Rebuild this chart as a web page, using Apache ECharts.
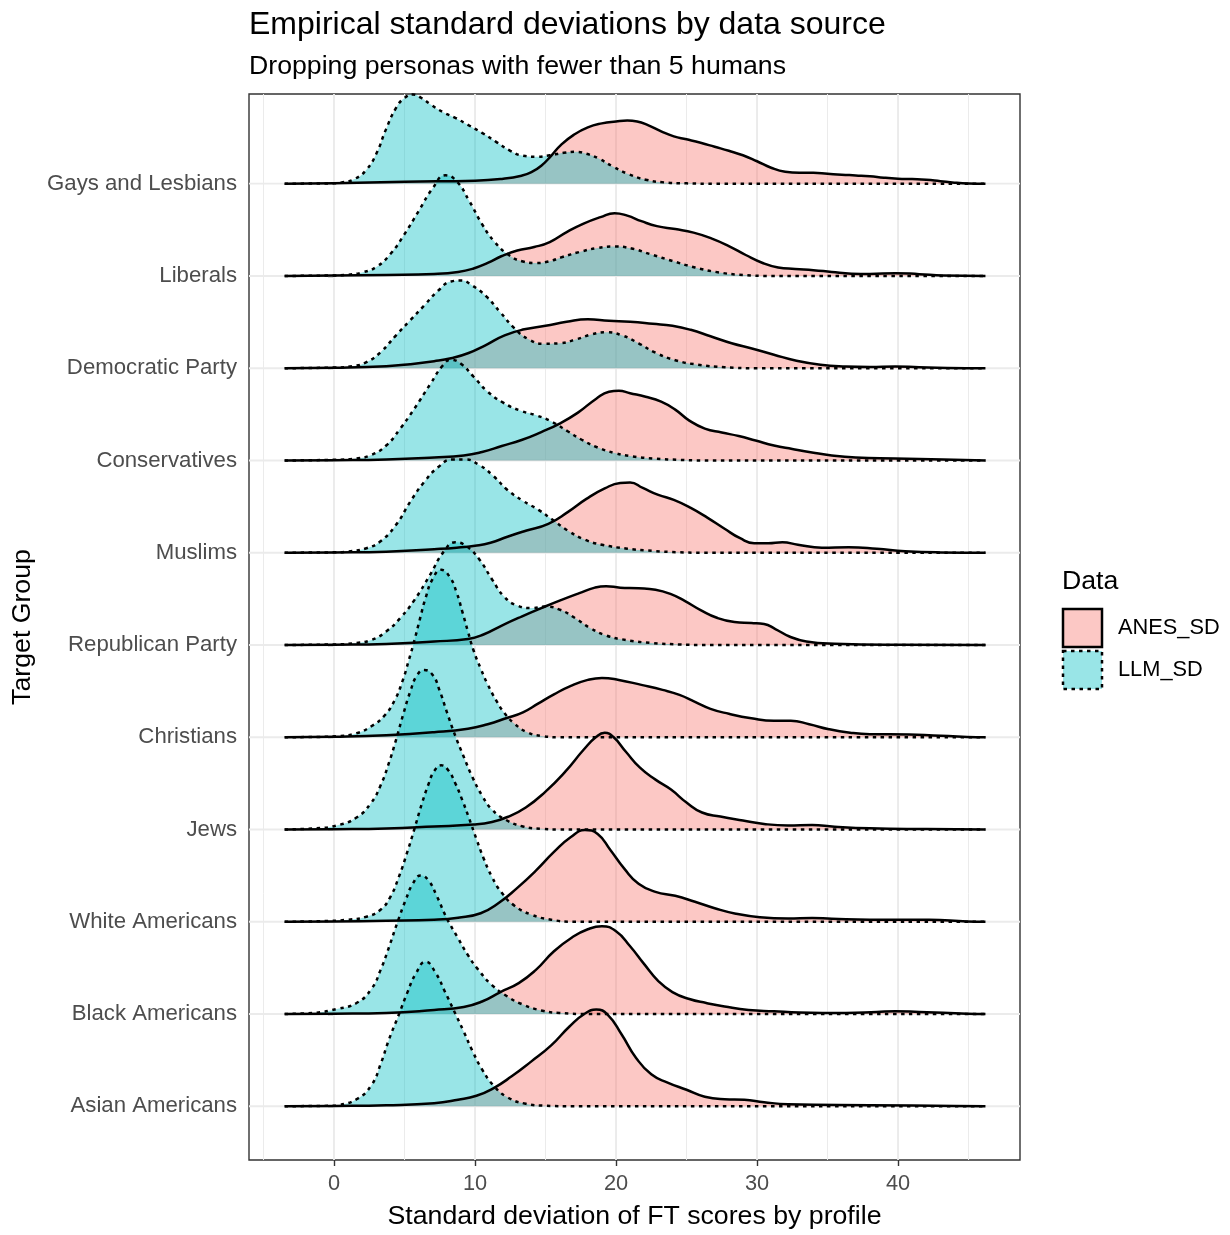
<!DOCTYPE html>
<html><head><meta charset="utf-8">
<script src="https://cdn.jsdelivr.net/npm/echarts@6/dist/echarts.min.js"></script>
<style>html,body{margin:0;padding:0;background:#fff}#c{width:1230px;height:1235px}</style>
</head><body><div id="c"></div>
<script>
// Target groups, top row first
const categories = ['Gays and Lesbians','Liberals','Democratic Party','Conservatives','Muslims','Republican Party','Christians','Jews','White Americans','Black Americans','Asian Americans'];
const xTicks = [0, 10, 20, 30, 40];
const xMinor = [-5, 5, 15, 25, 35, 45];

// [SD value, relative density height]
const anesGays = [[-3.5,0],[0,0.5],[5,2],[10,3],[12,5],[13.3,8],[14,11.5],[14.7,18],[15.4,28],[16.1,39],[17,49],[18,56.5],[19,60.5],[20,62.5],[20.8,63.5],[21.5,62.5],[22.3,58.5],[23.2,52.5],[24.1,47.5],[25,44.5],[26,41],[27,37],[28,33],[29,28.5],[30,22.5],[31,16],[32,12],[33,11],[34,11],[35,10],[36,9],[37,8.3],[38,7.5],[39,6],[40,5],[41,4.6],[42,4],[43,2.5],[44,1],[45,0.2],[46.2,0]];
const llmGays = [[-3.5,0],[0,0.3],[0.5,1],[1.5,5],[2.3,14],[3.0,30],[3.7,55],[4.4,76],[5.0,86],[5.6,89.5],[6.2,86],[6.9,79],[7.7,72],[8.6,66],[9.5,59],[10.5,51],[11.5,42],[12.5,33],[13.4,28],[14.3,27],[15.3,28.5],[16.3,31],[17.1,32],[17.9,30],[18.8,25],[19.8,17],[20.9,9.5],[22.1,4],[23.4,1.3],[25,0.3],[27,0],[46.2,0]];
const anesLiberals = [[-3.5,0],[0,0.5],[3.7,1],[7.1,2],[8.8,4],[9.9,7.5],[10.9,13],[11.9,20],[13,25.5],[14.2,29],[15.3,34],[16.5,44],[17.7,52.5],[18.9,59],[19.9,63],[20.8,60.5],[21.8,55],[22.9,50],[24.2,47],[25.5,43.5],[26.8,37.5],[28,30],[29.2,21],[30.4,13],[31.5,8.5],[32.7,7],[34,5.8],[35.3,4],[36.7,2.3],[38,2],[39.8,2.8],[41.5,1.8],[43.2,0.5],[46.2,0]];
const llmLiberals = [[-3.5,0],[0,0.5],[1,1.2],[2,3.5],[3,9],[4,22],[5,42],[6,65],[7,88],[7.9,101],[8.7,95],[9.6,75],[10.5,52],[11.4,34],[12.4,21],[13.4,14.5],[14.3,13],[15.2,14.5],[16.2,19],[17.4,24],[18.7,28],[19.9,29.5],[21.1,27.5],[22.5,21.5],[24,15],[25.6,8.5],[27.3,3.5],[29,1],[31,0],[46.2,0]];
const anesDemocratic = [[-3.5,0],[0,0.5],[3.7,2],[5.4,4],[7.1,7],[8.3,10],[9.5,15],[10.8,23.5],[12.1,33],[13.5,39],[15,42.5],[16.5,46.5],[18,49],[19.5,47.5],[21,46.5],[22.6,44.5],[24,42.5],[25.3,38.5],[26.7,32],[28.2,25],[29.7,19.5],[31.2,13.5],[32.8,7.5],[34.5,3.5],[36.3,1.8],[38,1.3],[39.8,1.8],[41.5,1],[43.5,0.3],[46.2,0]];
const llmDemocratic = [[-3.5,0],[0,0.6],[1.3,2],[2.3,6],[3.3,16],[4.4,33],[5.4,48],[6.4,63],[7.4,78],[8.3,87],[9,88],[9.8,83],[10.8,72],[11.8,56],[12.8,40],[13.8,29],[14.9,24.5],[16,25],[17.2,29],[18.3,34],[19.3,36],[20.4,33],[21.6,25],[22.8,15.5],[24.2,8],[25.8,3.5],[27.7,1],[30,0],[46.2,0]];
const anesConservatives = [[-3.5,0],[0,0.3],[3.7,1],[7.1,3],[9.2,5],[10.5,8.5],[11.9,14.5],[13.3,20.5],[14.7,28.5],[16,37],[17.3,48],[18.6,62],[19.5,69],[20.2,70],[21,67.5],[22.1,64],[23.2,59],[24.2,51],[25.2,40],[26.3,32],[27.5,28],[28.7,24.5],[29.9,20],[31.2,15],[32.5,11.5],[33.9,8],[35.3,5],[37,3],[39.8,2],[43.2,1],[46.2,0]];
const llmConservatives = [[-3.5,0],[0,0.6],[1.6,2],[2.65,5.5],[3.7,15],[4.7,32],[5.7,52],[6.8,76],[7.7,95],[8.3,101],[9,97],[9.9,84],[10.9,69],[12,58],[13.2,50],[14.4,45],[15.5,38.5],[16.6,29],[17.6,20.5],[18.7,13],[19.9,7.5],[21.2,4],[22.8,1.8],[24.5,0.6],[26,0],[46.2,0]];
const anesMuslims = [[-3.5,0],[0,0.3],[3.7,1],[7.1,3.5],[8.7,5],[10,7],[11.1,10],[12.3,16],[13.6,22],[15.2,29],[16.6,41],[17.9,54],[19.2,64.5],[20.3,70],[21,70.5],[21.9,65],[23,58],[24.1,53],[25.3,45],[26.5,35],[27.7,24],[28.8,14.5],[29.8,9.5],[30.8,9.5],[31.8,10.5],[32.9,8],[34.6,5],[36.5,5.5],[38.5,4],[40.5,1.5],[43,0.3],[46.2,0]];
const llmMuslims = [[-3.5,0],[0,0.4],[1,1.2],[2.3,4.5],[3.3,11.5],[4.4,28],[5.4,51],[6.4,71],[7.4,86],[8.4,93.5],[9.3,93.5],[10.3,88],[11.3,77],[12.3,63],[13.4,52],[14.5,43],[15.5,33],[16.6,22],[17.8,13],[19,8],[20.8,4],[22.6,1.8],[24.3,0.5],[26,0],[46.2,0]];
const anesRepublican = [[-3.5,0],[0,0.3],[3.7,1],[7.1,3.5],[9.5,6],[10.6,10.5],[11.9,19.5],[13.3,28.5],[14.7,37],[16,44.5],[17.4,52],[18.5,57.5],[19.3,59],[20.3,57.5],[21.6,57],[22.8,55.5],[23.9,51],[24.9,44],[26,35],[27.2,27],[28.4,23],[29.6,22],[30.5,21],[31.3,16],[32.3,8.5],[33.5,3.5],[35.5,1.2],[40,0.2],[46.2,0]];
const llmRepublican = [[-3.5,0],[0,0.5],[1.6,2],[2.65,5],[3.7,13.5],[4.7,27],[5.7,45],[6.8,70],[7.8,94],[8.6,103],[9.4,99],[10.3,86],[11.2,66],[12.1,48],[13,39.5],[14,37],[15,38.5],[16,35.5],[17.1,27],[18.1,17.5],[19.3,9.5],[20.7,5],[22.5,2],[24.5,0.5],[26,0],[46.2,0]];
const anesChristians = [[-3.5,0],[0,0.5],[3.7,2],[7.1,5],[9.5,8.5],[10.9,13],[12.2,19],[13.4,25],[14.5,34],[15.6,43],[16.8,51.5],[18,57.5],[19,59.5],[20.2,57.5],[21.8,52.5],[23.3,47.5],[24.5,42.5],[25.6,35.5],[26.7,28.5],[28,23.5],[29.6,19],[31.2,16.5],[32.4,16.5],[33.7,13],[35.1,8],[36.6,4.5],[38,3],[40.8,2.7],[42.5,1.8],[44.9,0.3],[46.2,0]];
const llmChristians = [[-3.5,0],[-1,0.3],[0.2,1],[1.6,4],[2.65,11],[3.6,22],[4.3,37],[4.85,56],[5.3,77],[5.7,97],[6.1,119],[6.5,140],[7.0,159],[7.6,168],[8.2,161],[8.7,145],[9.1,126],[9.5,106],[9.9,87],[10.4,69],[10.9,53],[11.5,37],[12.1,24],[12.8,13.5],[13.7,5],[14.7,1.3],[16,0],[46.2,0]];
const anesJews = [[-3.5,0],[0,0.3],[3.7,1],[7.1,3],[9.9,5],[11.2,7.5],[12.3,12.5],[13.6,22],[15,38],[16.4,58],[17.7,80],[18.6,93],[19.2,97],[19.8,93],[20.7,78],[21.7,62],[22.8,50],[23.9,40],[25,27],[26.1,17],[27.4,13],[29,9],[30.5,5.5],[32.2,4],[33.9,4.5],[35.5,2.8],[38,1.2],[42,0.4],[46.2,0]];
const llmJews = [[-3.5,0],[-1.5,1],[0.2,4],[1.6,12],[2.6,26],[3.3,44],[3.9,67],[4.4,90],[4.9,115],[5.4,138],[5.9,155],[6.4,160],[7.0,155],[7.5,139],[8.0,118],[8.6,94],[9.2,73],[9.8,53],[10.5,34],[11.2,20],[12.2,9.5],[13.4,3],[14.7,0.6],[16,0],[46.2,0]];
const anesWhite = [[-3.5,0],[0,0.3],[3.7,1],[7.1,2],[8.8,4],[10.4,8.5],[11.7,19],[13,34],[14.3,51],[15.6,70],[16.8,85],[17.8,92],[18.7,88],[19.6,72],[20.6,53],[21.6,38],[22.8,30],[24.2,26],[25.6,20],[27,13.5],[28.5,8],[30.2,4.5],[32.2,3.2],[33.9,3.8],[35.3,3],[38,2],[40.8,2],[42.2,2],[44.9,0.3],[46.2,0]];
const llmWhite = [[-3.5,0],[-1,0.5],[1.0,2],[2.3,5],[3.3,12],[4.0,25],[4.6,45],[5.2,70],[5.7,93],[6.2,117],[6.7,138],[7.1,151],[7.6,157],[8.1,152],[8.6,139],[9.1,122],[9.6,103],[10.1,83],[10.6,64],[11.2,45],[11.9,29],[12.8,16],[14,7],[15.4,2],[17,0],[46.2,0]];
const anesBlack = [[-3.5,0],[0,0.3],[3.7,1],[7.1,4],[9.2,7],[10.5,12.5],[11.8,22],[13.1,31],[14.3,44],[15.6,63],[16.9,77],[18,85],[19,88],[20,83],[21,68],[22,50],[23,33],[24,22],[25.2,15],[26.4,11],[27.7,7.5],[29.4,4],[31.2,2.7],[33,1.5],[36.3,1],[38.5,2],[39.8,2.7],[41.5,2],[44.9,0.3],[46.2,0]];
const llmBlack = [[-3.5,0],[-1.5,1],[0.2,5],[1.6,11],[2.65,25],[3.3,44],[3.9,67],[4.5,92],[5.1,115],[5.6,131],[6.15,139],[6.7,134],[7.3,118],[8.0,96],[8.8,76],[9.5,59],[10.2,45],[11.2,29],[12.3,17.5],[13.3,10],[14.7,3.5],[16,1],[18,0],[46.2,0]];
const anesAsian = [[-3.5,0],[0,0.3],[3.7,1],[7.1,3],[8.8,6.5],[10.1,10.5],[11.3,18],[12.6,30],[14,45],[15.4,61],[16.7,80],[17.8,93],[18.6,97],[19.4,92],[20.4,72],[21.4,49],[22.5,32],[23.7,23.5],[25,16.5],[26.3,9.5],[27.7,7],[29.1,6.5],[30.5,4],[32.2,2],[38,1],[44,0.3],[46.2,0]];
const llmAsian = [[-3.5,0],[0,0.5],[0.3,1],[1.6,7],[2.65,21],[3.3,42],[3.9,67],[4.6,92],[5.2,114],[5.8,133],[6.5,145],[7.2,134],[7.9,114],[8.6,93],[9.2,75],[9.8,56],[10.5,37],[11.3,21],[12.3,9],[13.6,2.5],[15,0.5],[17,0],[46.2,0]];

const anesRows = [anesGays, anesLiberals, anesDemocratic, anesConservatives, anesMuslims, anesRepublican, anesChristians, anesJews, anesWhite, anesBlack, anesAsian];
const llmRows = [llmGays, llmLiberals, llmDemocratic, llmConservatives, llmMuslims, llmRepublican, llmChristians, llmJews, llmWhite, llmBlack, llmAsian];

const DENSITY_SCALE = 1 / 92.6; // ridge height relative to row spacing
const N = categories.length;
const Y_MIN = 0.417, Y_MAX = 11.972, X_MIN = -6.028, X_MAX = 48.65;
const FONT = 'Liberation Sans, Arial, sans-serif';

const series = [];
const gridLine = (pts, w) => ({
  type: 'line', z: 1, silent: true, animation: false, showSymbol: false, symbol: 'none',
  data: pts, lineStyle: {color: '#ebebeb', width: w}
});
xTicks.forEach(v => series.push(gridLine([[v, Y_MIN], [v, Y_MAX]], 1.9)));
xMinor.forEach(v => series.push(gridLine([[v, Y_MIN], [v, Y_MAX]], 1.0)));
categories.forEach((c, i) => series.push(gridLine([[X_MIN, N - i], [X_MAX, N - i]], 1.9)));

categories.forEach((cat, i) => {
  const base = N - i;
  const mk = (pts, name, fill, dash) => ({
    type: 'line', name: name, z: 2,
    data: pts.map(p => [p[0], base + p[1] * DENSITY_SCALE]),
    smooth: 0.5, showSymbol: false, symbol: 'none', silent: true, animation: false,
    lineStyle: {color: '#000', width: 2.5, type: dash, cap: 'butt', join: 'round'},
    areaStyle: {color: fill, opacity: 1, origin: base}
  });
  series.push(mk(anesRows[i], 'ANES_SD', 'rgba(248,118,109,0.4)', 'solid'));
  series.push(mk(llmRows[i], 'LLM_SD', 'rgba(0,191,196,0.4)', [3.5, 4.5]));
});

const chart = echarts.init(document.getElementById('c'), null, {renderer: 'canvas'});
chart.setOption({
  animation: false,
  backgroundColor: '#fff',
  textStyle: {fontFamily: FONT},
  title: [
    {text: 'Empirical standard deviations by data source', left: 249, top: 9, padding: 0,
     textStyle: {fontSize: 32, lineHeight: 32, fontWeight: 'normal', color: '#000', fontFamily: FONT}},
    {text: 'Dropping personas with fewer than 5 humans', left: 249, top: 53, padding: 0,
     textStyle: {fontSize: 26.7, lineHeight: 27, fontWeight: 'normal', color: '#000', fontFamily: FONT}}
  ],
  grid: {left: 249, top: 94, width: 771, height: 1070, show: true, borderColor: '#333', borderWidth: 1.4, containLabel: false},
  xAxis: {
    type: 'value', min: X_MIN, max: X_MAX,
    name: 'Standard deviation of FT scores by profile', nameLocation: 'middle', nameGap: 43,
    nameTextStyle: {fontSize: 26.7, lineHeight: 27, color: '#000', fontFamily: FONT},
    axisLine: {show: false},
    axisTick: {show: true, length: 6, lineStyle: {color: '#333', width: 1.4}, customValues: xTicks},
    axisLabel: {show: true, margin: 13, fontSize: 21.8, color: '#4d4d4d', fontFamily: FONT, customValues: xTicks},
    splitLine: {show: false}
  },
  yAxis: {
    type: 'value', min: Y_MIN, max: Y_MAX,
    name: 'Target Group', nameLocation: 'middle', nameGap: 211,
    nameTextStyle: {fontSize: 26.7, lineHeight: 27, color: '#000', fontFamily: FONT},
    axisLine: {show: false},
    axisTick: {show: true, length: 6, lineStyle: {color: '#333', width: 1.4}, customValues: categories.map((c, i) => N - i)},
    axisLabel: {show: true, margin: 12, fontSize: 22.2, color: '#4d4d4d', fontFamily: FONT,
      customValues: categories.map((c, i) => N - i),
      formatter: v => categories[N - Math.round(v)]},
    splitLine: {show: false}
  },
  graphic: [
    {type: 'text', left: 1062, top: 568, style: {text: 'Data', font: '26.7px ' + FONT, fill: '#000'}},
    {type: 'rect', shape: {x: 1063, y: 609, width: 39, height: 38}, style: {fill: 'rgba(248,118,109,0.4)', stroke: '#000', lineWidth: 2.5}},
    {type: 'rect', shape: {x: 1063, y: 651, width: 39, height: 38}, style: {fill: 'rgba(0,191,196,0.4)', stroke: '#000', lineWidth: 2.5, lineDash: [3.5, 4.5]}},
    {type: 'text', left: 1118, top: 617, style: {text: 'ANES_SD', font: '21.8px ' + FONT, fill: '#000'}},
    {type: 'text', left: 1118, top: 659, style: {text: 'LLM_SD', font: '21.8px ' + FONT, fill: '#000'}}
  ],
  series: series
});
</script></body></html>
